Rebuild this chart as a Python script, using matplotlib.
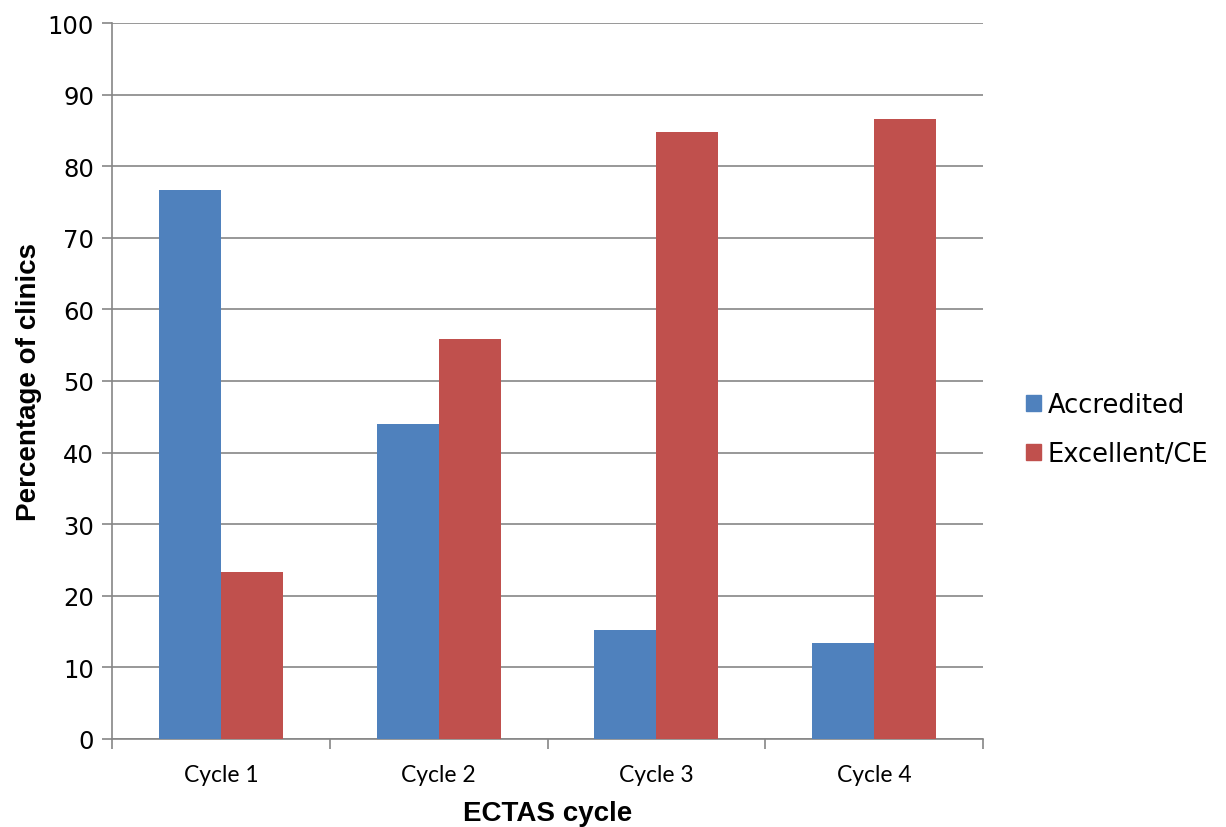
import numpy as np
import matplotlib
matplotlib.use("Agg")
import matplotlib.pyplot as plt
from matplotlib.patches import Patch

cycles = ["Cycle 1", "Cycle 2", "Cycle 3", "Cycle 4"]
accredited = [76.7, 44.0, 15.2, 13.4]
excellent = [23.3, 55.9, 84.8, 86.6]

blue = "#4F81BD"
red = "#C0504D"
grid = "#868686"

fig = plt.figure(figsize=(12.26, 8.28), dpi=100)
ax = fig.add_axes([0.0914, 0.1063, 0.7104, 0.8647])

x = np.arange(len(cycles))
w = 0.285
ax.bar(x - w / 2, accredited, w, color=blue, zorder=3)
ax.bar(x + w / 2, excellent, w, color=red, zorder=3)

ax.set_xlim(-0.5, 3.5)
ax.set_ylim(0, 100)
ax.set_yticks(range(0, 101, 10))
ax.yaxis.grid(True, color=grid, lw=1.2, zorder=0)
ax.set_xticks(np.arange(-0.5, 4, 1))
ax.set_xticklabels([])
ax.set_xticks(x, minor=True)
ax.set_xticklabels(cycles, minor=True, fontfamily="Lato", fontsize=16.5)
ax.tick_params(axis="x", which="major", length=7, color=grid, width=1.2, direction="out")
ax.tick_params(axis="x", which="minor", length=0, pad=18)
ax.tick_params(axis="y", length=7, color=grid, width=1.2, labelsize=17.5, pad=6)
for s in ["top", "right"]:
    ax.spines[s].set_visible(False)
for s in ["left", "bottom"]:
    ax.spines[s].set_color(grid)
    ax.spines[s].set_linewidth(1.2)

ax.set_ylabel("Percentage of clinics", fontfamily="Liberation Sans",
              fontweight="bold", fontsize=20, labelpad=4)
ax.set_xlabel("ECTAS cycle", fontfamily="Liberation Sans",
              fontweight="bold", fontsize=20, labelpad=10.5)

handles = [Patch(color=blue, label="Accredited"), Patch(color=red, label="Excellent/CE")]
fig.legend(handles=handles, loc="center left", bbox_to_anchor=(0.818, 0.48),
           frameon=False, fontsize=18.5, handlelength=0.6, handleheight=0.6,
           handletextpad=0.25, labelspacing=0.9)

fig.savefig("out.png", dpi=100)
